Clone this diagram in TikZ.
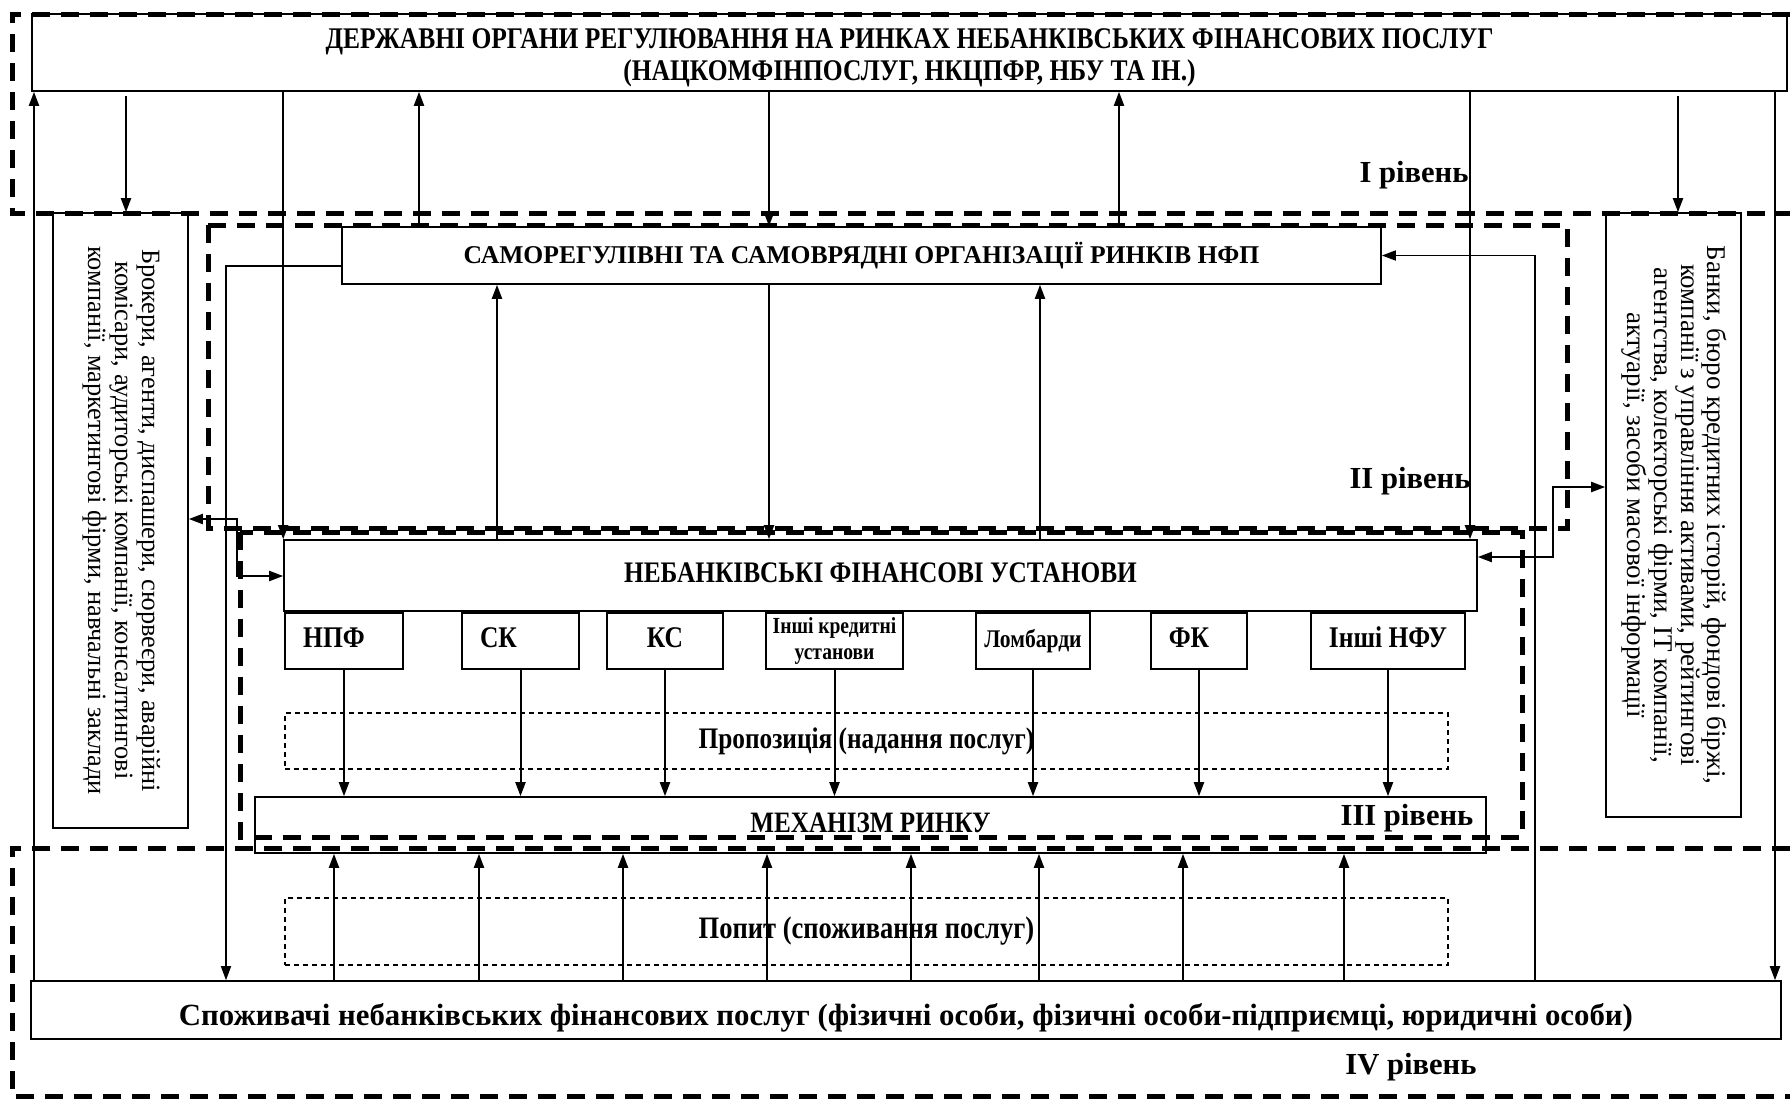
\documentclass[tikz,border=0pt]{standalone}
\usepackage{fontspec}
\setmainfont{Liberation Serif}
\newfontfamily\cnd[FakeStretch=0.85]{Liberation Serif}
\usetikzlibrary{arrows.meta,positioning}

\begin{document}
\begin{tikzpicture}[x=0.5pt, y=-0.5pt,
  box/.style={draw, line width=0.8pt, inner sep=0pt, align=center},
  unit/.style={box, minimum height=28pt, text height=10pt, text depth=3.5pt,
    font=\cnd\bfseries\fontsize{15}{17}\selectfont},
  offer/.style={draw, dash pattern=on 2.5pt off 2pt, line width=0.6pt, inner sep=0pt,
    font=\cnd\bfseries\fontsize{14.9}{17}\selectfont},
  lvl/.style={line width=2.5pt, dash pattern=on 9pt off 5.5pt},
  arr/.style={-{Triangle[length=7pt,width=5pt]}, line width=1pt},
  twoarr/.style={{Triangle[length=7pt,width=5pt]}-{Triangle[length=7pt,width=5pt]}, line width=1pt},
  ln/.style={line width=0.8pt},
  tag/.style={font=\bfseries\fontsize{15.3}{17}\selectfont}]
  \useasboundingbox (0,0) rectangle (1790,1099);

  % органи регулювання
  \node[box, minimum width=877.5pt, minimum height=38.5pt,
    font=\cnd\bfseries\fontsize{15}{16}\selectfont] (top) at (909.5,52.5)
    {\rule{0pt}{15pt}ДЕРЖАВНІ ОРГАНИ РЕГУЛЮВАННЯ НА РИНКАХ НЕБАНКІВСЬКИХ ФІНАНСОВИХ ПОСЛУГ\\(НАЦКОМФІНПОСЛУГ, НКЦПФР, НБУ ТА ІН.)};
  \node[box, minimum width=519.5pt, minimum height=28.5pt,
    font=\bfseries\fontsize{12.8}{15}\selectfont] (selfreg) at (861.5,255.5)
    {САМОРЕГУЛІВНІ ТА САМОВРЯДНІ ОРГАНІЗАЦІЇ РИНКІВ НФП};

  % бокові блоки
  \node[box, minimum width=67.5pt, minimum height=307.5pt,
    font=\fontsize{13.2}{13.5}\selectfont] (brokers) at (120.5,520.5)
    {\rotatebox{-90}{\begin{tabular}{@{}c@{}}Брокери, агенти, диспашери, сюрвеєри, аварійні\\комісари, аудиторські компанії, консалтингові\\компанії, маркетингові фірми, навчальні заклади\end{tabular}}};
  \node[box, minimum width=67.5pt, minimum height=302pt,
    font=\fontsize{13.5}{13}\selectfont] (banks) at (1673.5,515)
    {\rotatebox{-90}{\begin{tabular}{@{}c@{}}Банки, бюро кредитних історій, фондові біржі,\\компанії з управління активами, рейтингові\\агентства, колекторські фірми, IT компанії,\\актуарії, засоби масової інформації\end{tabular}}};

  % фінансові установи
  \node[box, minimum width=596.5pt, minimum height=35.5pt, text height=10pt, text depth=3.4pt,
    font=\cnd\bfseries\fontsize{14.9}{16}\selectfont] (nfu) at (880.5,575.5)
    {НЕБАНКІВСЬКІ ФІНАНСОВІ УСТАНОВИ};
  \node[unit, minimum width=59pt] (npf) at (344,641) {НПФ\hspace*{10pt}};
  \node[unit, minimum width=58.5pt] (sk) at (520.5,641) {СК\hspace*{22pt}};
  \node[unit, minimum width=58pt] (ks) at (665,641) {КС};
  \node[box, minimum width=68.5pt, minimum height=28pt,
    font=\cnd\bfseries\fontsize{11.5}{13}\selectfont] (ikr) at (834.5,641) {Інші кредитні\\установи};
  \node[unit, minimum width=57pt, font=\cnd\bfseries\fontsize{12.7}{14}\selectfont] (lomb) at (1033,641) {Ломбарди};
  \node[unit, minimum width=48pt] (fk) at (1199,641) {ФК\hspace*{10pt}};
  \node[unit, minimum width=77pt] (infu) at (1388,641) {Інші НФУ};

  % ринок
  \node[offer, minimum width=581.5pt, minimum height=28pt] (offer) at (866.5,741) {Пропозиція (надання послуг)};
  \node[box, minimum width=615.5pt, minimum height=28pt, text height=10pt, text depth=3pt,
    font=\cnd\bfseries\fontsize{14.8}{16}\selectfont] (mech) at (870.5,825) {МЕХАНІЗМ РИНКУ};
  \node[offer, minimum width=581.5pt, minimum height=33.5pt,
    font=\cnd\bfseries\fontsize{15.6}{17}\selectfont] (demand) at (866.5,931.5) {Попит (споживання послуг)};
  \node[box, minimum width=875pt, minimum height=29pt, text height=18pt, text depth=3pt,
    font=\bfseries\fontsize{15.4}{17}\selectfont] (cons) at (906,1010)
    {Споживачі небанківських фінансових послуг (фізичні особи, фізичні особи-підприємці, юридичні особи)};

  % рівні
  \node[tag] (lv1) at (1414,175.5) {I рівень};
  \node[tag] (lv2) at (1410,481.5) {II рівень};
  \node[tag] (lv3) at (1407,818.5) {III рівень};
  \node[tag] (lv4) at (1411,1067.5) {IV рівень};

  % зв'язки I рівня
  \coordinate (g1) at (126,96);
  \coordinate (g2) at (1678,96);
  \draw[arr] (g1) -- (g1 |- brokers.north);
  \draw[arr] (g2) -- (g2 |- banks.north);
  \draw[arr] (nfu.north west |- top.south) -- (nfu.north west);
  \draw[arr] (419,0 |- selfreg.north) -- (419,0 |- top.south);
  \draw[arr] (769,0 |- top.south) -- (769,0 |- selfreg.north);
  \draw[arr] (1119,0 |- selfreg.north) -- (1119,0 |- top.south);
  \draw[arr] (1470,0 |- top.south) -- (1470,0 |- nfu.north);
  \draw[arr] (1775,0 |- top.south) -- (1775,0 |- cons.north);
  \draw[arr] (34,0 |- cons.north) -- (34,0 |- top.south);

  % зв'язки II рівня
  \draw[arr] (769,0 |- selfreg.south) -- (769,0 |- nfu.north);
  \draw[arr] (497,0 |- nfu.north) -- (497,0 |- selfreg.south);
  \draw[arr] (1040,0 |- nfu.north) -- (1040,0 |- selfreg.south);
  \draw[arr, ln] (selfreg.west |- 0,266) -- (226,266) -- (226,0 |- cons.north);
  \draw[arr, ln] (1535,0 |- cons.north) -- (1535,0 |- selfreg.east) -- (selfreg.east);
  \draw[twoarr] (brokers.east |- 0,519) -- (237,519) -- (237,576) -- (nfu.west |- 0,576);
  \draw[twoarr] (nfu.east |- 0,557) -- (1553,557) -- (1553,487) -- (banks.west |- 0,487);

  % пропозиція
  \draw[arr] (npf.south) -- (npf.south |- mech.north);
  \draw[arr] (sk.south) -- (sk.south |- mech.north);
  \draw[arr] (ks.south) -- (ks.south |- mech.north);
  \draw[arr] (ikr.south) -- (ikr.south |- mech.north);
  \draw[arr] (lomb.south) -- (lomb.south |- mech.north);
  \draw[arr] (fk.south) -- (fk.south |- mech.north);
  \draw[arr] (infu.south) -- (infu.south |- mech.north);

  % попит
  \draw[arr] (334,0 |- cons.north) -- (334,0 |- mech.south);
  \draw[arr] (479,0 |- cons.north) -- (479,0 |- mech.south);
  \draw[arr] (623,0 |- cons.north) -- (623,0 |- mech.south);
  \draw[arr] (767,0 |- cons.north) -- (767,0 |- mech.south);
  \draw[arr] (911,0 |- cons.north) -- (911,0 |- mech.south);
  \draw[arr] (1039,0 |- cons.north) -- (1039,0 |- mech.south);
  \draw[arr] (1183,0 |- cons.north) -- (1183,0 |- mech.south);
  \draw[arr] (1344,0 |- cons.north) -- (1344,0 |- mech.south);

  % межі рівнів
  \draw[lvl] (1790,14) -- (12,14) -- (12,213) -- (1790,213);
  \draw[lvl] (208,225) rectangle (1567,528);
  \draw[lvl] (240,532) rectangle (1522,837);
  \draw[lvl] (1790,848) -- (12,848) -- (12,1096) -- (1790,1096);
\end{tikzpicture}
\end{document}
